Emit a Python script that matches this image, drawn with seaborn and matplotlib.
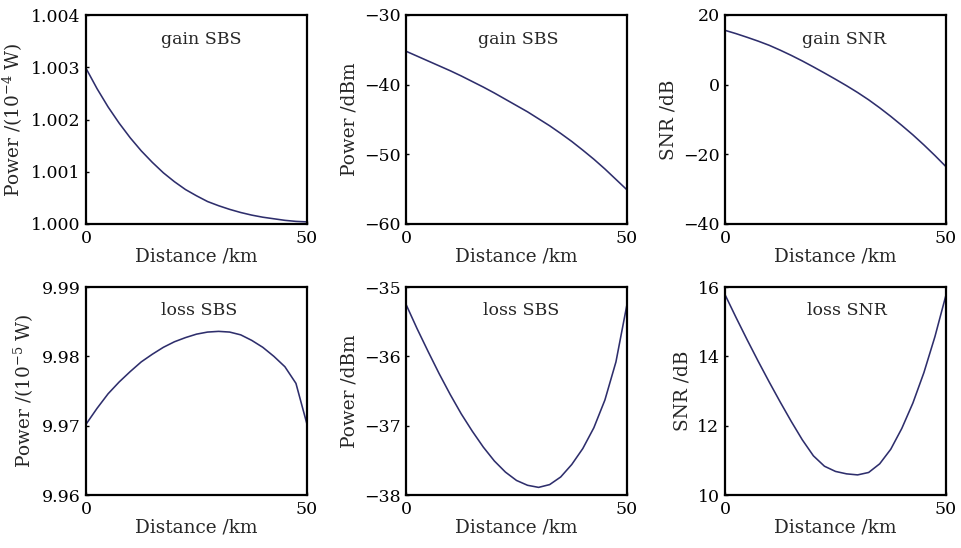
import numpy as np
import pandas as pd
import matplotlib
matplotlib.use("Agg")
import matplotlib.pyplot as plt
import seaborn as sns

# ---- data ----
distance = [0, 2.5, 5, 7.5, 10, 12.5, 15, 17.5, 20, 22.5, 25,
            27.5, 30, 32.5, 35, 37.5, 40, 42.5, 45, 47.5, 50]

gain_power_w = [1.00298, 1.00259, 1.00224, 1.00193, 1.00165, 1.00140, 1.00118,
                1.00098, 1.00081, 1.00066, 1.00054, 1.00043, 1.00035, 1.00028,
                1.00022, 1.00017, 1.00013, 1.00010, 1.00007, 1.00005, 1.00004]

gain_power_dbm = [-35.2, -35.9, -36.6, -37.3, -38.0, -38.75, -39.55, -40.35, -41.2,
                  -42.1, -43.0, -43.9, -44.9, -45.9, -47.0, -48.15, -49.4, -50.7,
                  -52.1, -53.6, -55.1]

gain_snr = [15.6, 14.65, 13.6, 12.5, 11.3, 9.9, 8.4, 6.8, 5.1, 3.35, 1.55,
            -0.3, -2.25, -4.35, -6.65, -9.1, -11.7, -14.4, -17.3, -20.35, -23.55]

loss_power_w = [9.9702, 9.9725, 9.9746, 9.9763, 9.9778, 9.9792, 9.9803, 9.9813,
                9.9821, 9.9827, 9.9832, 9.9835, 9.9836, 9.9835, 9.9831, 9.9823,
                9.9813, 9.9800, 9.9785, 9.9761, 9.9702]

loss_power_dbm = [-35.25, -35.60, -35.93, -36.25, -36.55, -36.83, -37.08, -37.31,
                  -37.51, -37.67, -37.79, -37.86, -37.89, -37.85, -37.74, -37.56,
                  -37.33, -37.03, -36.63, -36.08, -35.25]

loss_snr = [15.78, 15.12, 14.48, 13.86, 13.26, 12.68, 12.12, 11.59, 11.13, 10.83,
            10.68, 10.61, 10.58, 10.65, 10.90, 11.32, 11.92, 12.65, 13.53, 14.57,
            15.77]

panel_titles = ["gain SBS", "gain SBS", "gain SNR", "loss SBS", "loss SBS", "loss SNR"]
y_labels = [r"Power /(10$^{-4}$ W)", "Power /dBm", "SNR /dB",
            r"Power /(10$^{-5}$ W)", "Power /dBm", "SNR /dB"]
y_limits = [(1.000, 1.004), (-60, -30), (-40, 20), (9.96, 9.99), (-38, -35), (10, 16)]
y_ticks = [[1.000, 1.001, 1.002, 1.003, 1.004], [-60, -50, -40, -30], [-40, -20, 0, 20],
           [9.96, 9.97, 9.98, 9.99], [-38, -37, -36, -35], [10, 12, 14, 16]]
y_fmt = ["{:.3f}", "{:g}", "{:g}", "{:.2f}", "{:g}", "{:g}"]
series = [gain_power_w, gain_power_dbm, gain_snr, loss_power_w, loss_power_dbm, loss_snr]
title_x = [0.52, 0.51, 0.54, 0.51, 0.52, 0.55]

sns.set_style("ticks")
plt.rcParams["font.family"] = ["DejaVu Serif"]
plt.rcParams["mathtext.fontset"] = "dejavuserif"
plt.rcParams["axes.unicode_minus"] = True

fig = plt.figure(figsize=(9.61, 5.48), dpi=100)
lefts = [86, 406, 725]
W, H = 961, 548
positions = []
for row_top, row_bot in [(15, 224), (287, 495)]:
    for l in lefts:
        positions.append([l / W, 1 - row_bot / H, 221 / W, (row_bot - row_top) / H])

line_color = "#2e2e6c"
fs = 12.5
for i in range(6):
    ax = fig.add_axes(positions[i])
    df = pd.DataFrame({"Distance": distance, "Value": series[i]})
    sns.lineplot(data=df, x="Distance", y="Value", ax=ax, color=line_color, linewidth=1.15)
    ax.set_xlim(0, 50)
    ax.set_ylim(*y_limits[i])
    ax.set_xticks([0, 50])
    ax.set_xticklabels(["0", "50"])
    ax.set_yticks(y_ticks[i])
    ax.set_yticklabels([y_fmt[i].format(v).replace("-", "\u2212") for v in y_ticks[i]])
    ax.tick_params(direction="in", length=2.5, width=1.0, labelsize=fs, pad=4, colors="black")
    for s in ax.spines.values():
        s.set_visible(True)
        s.set_linewidth(1.6)
        s.set_color("black")
    ax.set_xlabel("Distance /km", fontsize=13.3, labelpad=1)
    ax.set_ylabel(y_labels[i], fontsize=13.3, labelpad=4)
    ax.text(title_x[i], 0.885, panel_titles[i], transform=ax.transAxes,
            ha="center", va="center", fontsize=fs)

fig.savefig("out.png", dpi=100, facecolor="white")
